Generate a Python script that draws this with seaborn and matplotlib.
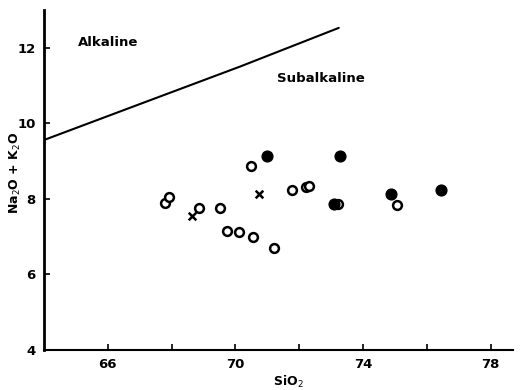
import matplotlib
matplotlib.use("Agg")
import matplotlib.pyplot as plt
import seaborn as sns
import pandas as pd

# Data
open_sio2 = [67.79, 67.91, 68.87, 69.50, 69.72, 70.12, 70.50, 70.55, 71.20, 71.76, 72.22, 72.32, 73.21, 75.07]
open_alk = [7.89, 8.04, 7.76, 7.76, 7.16, 7.13, 8.86, 6.99, 6.70, 8.24, 8.31, 8.33, 7.86, 7.83]
filled_sio2 = [71.00, 73.08, 73.27, 74.88, 76.46]
filled_alk = [9.13, 7.86, 9.13, 8.14, 8.23]
cross_sio2 = [68.65, 70.73]
cross_alk = [7.54, 8.13]
line_sio2 = [64.0, 67.03, 70.16, 73.24]
line_alk = [9.56, 10.52, 11.51, 12.53]

x_ticks = [66, 68, 70, 72, 74, 76, 78]
x_labels = ["66", "", "70", "", "74", "", "78"]
y_ticks = [4, 6, 8, 10, 12]

sns.set_style("ticks")
plt.rcParams["font.family"] = ["DejaVu Sans"]
plt.rcParams["text.color"] = "black"
plt.rcParams["axes.labelcolor"] = "black"
plt.rcParams["xtick.color"] = "black"
plt.rcParams["ytick.color"] = "black"
plt.rcParams["axes.edgecolor"] = "black"

fig = plt.figure(figsize=(5.31, 3.9), dpi=100)
ax = fig.add_axes([0.083, 0.103, 0.883, 0.871])

line_df = pd.DataFrame({"SiO2": line_sio2, "alk": line_alk})
sns.lineplot(data=line_df, x="SiO2", y="alk", sort=False, color="black", lw=1.5, ax=ax)

open_df = pd.DataFrame({"SiO2": open_sio2, "alk": open_alk})
sns.scatterplot(data=open_df, x="SiO2", y="alk", marker="o", s=40,
                facecolor="white", edgecolor="black", linewidth=1.8, ax=ax, zorder=3)
filled_df = pd.DataFrame({"SiO2": filled_sio2, "alk": filled_alk})
sns.scatterplot(data=filled_df, x="SiO2", y="alk", marker="o", s=60,
                color="black", edgecolor="black", linewidth=1, ax=ax, zorder=4)
cross_df = pd.DataFrame({"SiO2": cross_sio2, "alk": cross_alk})
sns.scatterplot(data=cross_df, x="SiO2", y="alk", marker="x", s=30,
                color="black", linewidth=1.8, ax=ax, zorder=3)

ax.set_xlim(64, 78.7)
ax.set_ylim(4, 13.0)
ax.set_xticks(x_ticks)
ax.set_xticklabels(x_labels)
ax.set_yticks(y_ticks)
ax.tick_params(direction="in", length=4, width=1.2, labelsize=9.5, pad=6, colors="black")
for t in ax.get_xticklabels() + ax.get_yticklabels():
    t.set_fontweight("bold")

sns.despine(ax=ax)
ax.spines["left"].set_linewidth(2)
ax.spines["bottom"].set_linewidth(1.5)

ax.set_xlabel(r"SiO$_2$", fontsize=9, fontweight="bold", color="black")
ax.set_ylabel(r"Na$_2$O + K$_2$O", fontsize=9, fontweight="bold", color="black")
ax.xaxis.set_label_coords(0.52, -0.07)
ax.yaxis.set_label_coords(-0.045, 0.52)

ax.text(65.05, 12.14, "Alkaline", fontsize=9.5, fontweight="bold", va="center", ha="left", color="black")
ax.text(71.3, 11.19, "Subalkaline", fontsize=9.5, fontweight="bold", va="center", ha="left", color="black")

fig.savefig("out.png", dpi=100)
